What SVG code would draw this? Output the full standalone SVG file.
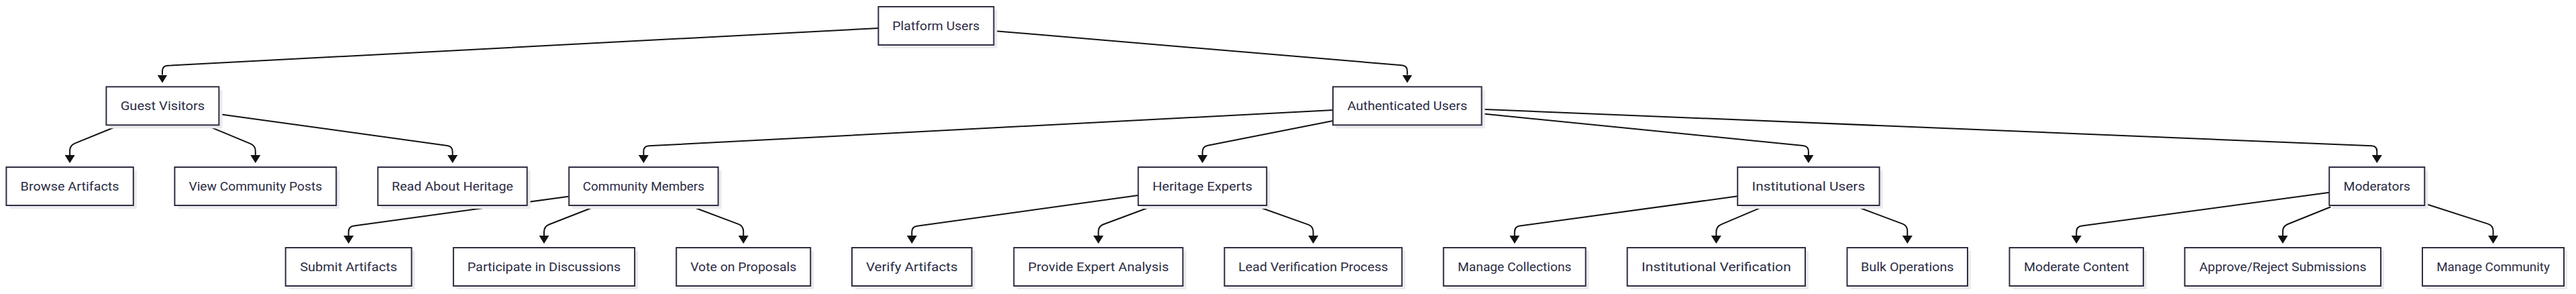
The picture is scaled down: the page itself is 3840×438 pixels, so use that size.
<svg xmlns="http://www.w3.org/2000/svg" width="3840" height="438" viewBox="0 0 3840 438">
<style>
.shadow{fill:#ebebef;stroke:none}
.box{fill:#ffffff;stroke:#2e2e42;stroke-width:2}
.lbl{font-family:Roboto,"Liberation Sans",sans-serif;font-size:19px;fill:#2c2c44;text-anchor:middle}
.edge{fill:none;stroke:#111111;stroke-width:2;marker-end:url(#arr)}
</style>
<defs>
<marker id="arr" viewBox="0 0 12 15" refX="0" refY="7.5" markerWidth="12" markerHeight="15" markerUnits="userSpaceOnUse" orient="auto">
<path d="M0,0 L12,7.5 L0,15 z" fill="#111111"/>
</marker>
</defs>
<rect width="3840" height="438" fill="#ffffff"/>
<g id="connectors">
<path class="edge" d="M1309.4,42 L250,97.7 Q242,98.1 242,106.1 L242,111.5"/>
<path class="edge" d="M1481.2,46 L2089.8,97.3 Q2097.8,98 2097.8,106 L2097.8,111.5"/>
<path class="edge" d="M176.3,187.3 L111.5,213.6 Q104.1,216.6 104.1,224.6 L104.1,231"/>
<path class="edge" d="M309,187.3 L373.4,214.1 Q380.8,217.2 380.8,225.2 L380.8,231"/>
<path class="edge" d="M326.5,170 L666.7,217 Q674.6,218.1 674.6,226.1 L674.6,231"/>
<path class="edge" d="M1987,164 L967.4,217.3 Q959.4,217.7 959.4,225.7 L959.4,231"/>
<path class="edge" d="M1987,180 L1800.4,216.8 Q1792.5,218.3 1792.5,226.3 L1792.5,231"/>
<path class="edge" d="M2208.6,169.3 L2687.9,217.1 Q2695.9,217.9 2695.9,225.9 L2695.9,231"/>
<path class="edge" d="M2208.6,162.7 L3535.3,217.3 Q3543.3,217.6 3543.3,225.6 L3543.3,231"/>
<path class="edge" d="M847.3,292.7 L527.5,336.5 Q519.6,337.6 519.6,345.6 L519.6,351"/>
<path class="edge" d="M888.2,307.3 L818.4,334.5 Q811,337.4 811,345.4 L811,351"/>
<path class="edge" d="M1029.8,307.3 L1100.7,333.9 Q1108.2,336.7 1108.2,344.7 L1108.2,351"/>
<path class="edge" d="M1696.7,291 L1367.2,336.8 Q1359.3,337.9 1359.3,345.9 L1359.3,351"/>
<path class="edge" d="M1717.6,307.3 L1644.9,334.2 Q1637.4,337 1637.4,345 L1637.4,351"/>
<path class="edge" d="M1871.8,306.7 L1950.1,334.6 Q1957.6,337.3 1957.6,345.3 L1957.6,351"/>
<path class="edge" d="M2590.2,292.3 L2265.7,336.6 Q2257.8,337.7 2257.8,345.7 L2257.8,351"/>
<path class="edge" d="M2629.4,307.3 L2565.8,334.4 Q2558.4,337.5 2558.4,345.5 L2558.4,351"/>
<path class="edge" d="M2766.1,307.3 L2835.8,333.4 Q2843.3,336.2 2843.3,344.2 L2843.3,351"/>
<path class="edge" d="M3472.2,286.7 L3103.2,336.6 Q3095.3,337.7 3095.3,345.7 L3095.3,351"/>
<path class="edge" d="M3474.3,308.3 L3410.3,334 Q3402.9,337 3402.9,345 L3402.9,351"/>
<path class="edge" d="M3614.3,303.3 L3708.9,333.6 Q3716.5,336 3716.5,344 L3716.5,351"/>
</g>
<g id="platform-users"><rect class="shadow" x="1314.4" y="15" width="172" height="57"/><rect class="box" x="1309.4" y="10" width="172" height="57"/><text class="lbl" x="1395.3" y="44.5" textLength="130" lengthAdjust="spacingAndGlyphs">Platform Users</text></g>
<g id="guest-visitors"><rect class="shadow" x="163.4" y="134.3" width="168" height="57"/><rect class="box" x="158.4" y="129.3" width="168" height="57"/><text class="lbl" x="242.4" y="163.8" textLength="125.5" lengthAdjust="spacingAndGlyphs">Guest Visitors</text></g>
<g id="authenticated-users"><rect class="shadow" x="1992" y="134.3" width="221.6" height="57"/><rect class="box" x="1987" y="129.3" width="221.6" height="57"/><text class="lbl" x="2097.8" y="163.8" textLength="178.8" lengthAdjust="spacingAndGlyphs">Authenticated Users</text></g>
<g id="browse-artifacts"><rect class="shadow" x="14.4" y="254" width="189.4" height="57"/><rect class="box" x="9.4" y="249" width="189.4" height="57"/><text class="lbl" x="104.1" y="283.5" textLength="147" lengthAdjust="spacingAndGlyphs">Browse Artifacts</text></g>
<g id="view-community-posts"><rect class="shadow" x="265.4" y="254" width="240.8" height="57"/><rect class="box" x="260.4" y="249" width="240.8" height="57"/><text class="lbl" x="380.8" y="283.5" textLength="198.8" lengthAdjust="spacingAndGlyphs">View Community Posts</text></g>
<g id="read-about-heritage"><rect class="shadow" x="568.3" y="254" width="222.4" height="57"/><rect class="box" x="563.3" y="249" width="222.4" height="57"/><text class="lbl" x="674.5" y="283.5" textLength="180.8" lengthAdjust="spacingAndGlyphs">Read About Heritage</text></g>
<g id="community-members"><rect class="shadow" x="853.2" y="254" width="222.4" height="57"/><rect class="box" x="848.2" y="249" width="222.4" height="57"/><text class="lbl" x="959.4" y="283.5" textLength="181.2" lengthAdjust="spacingAndGlyphs">Community Members</text></g>
<g id="heritage-experts"><rect class="shadow" x="1701.7" y="254" width="191.5" height="57"/><rect class="box" x="1696.7" y="249" width="191.5" height="57"/><text class="lbl" x="1792.5" y="283.5" textLength="149" lengthAdjust="spacingAndGlyphs">Heritage Experts</text></g>
<g id="institutional-users"><rect class="shadow" x="2595.2" y="254" width="211.4" height="57"/><rect class="box" x="2590.2" y="249" width="211.4" height="57"/><text class="lbl" x="2695.9" y="283.5" textLength="168.6" lengthAdjust="spacingAndGlyphs">Institutional Users</text></g>
<g id="moderators"><rect class="shadow" x="3477.2" y="254" width="142.1" height="57"/><rect class="box" x="3472.2" y="249" width="142.1" height="57"/><text class="lbl" x="3543.3" y="283.5" textLength="99.5" lengthAdjust="spacingAndGlyphs">Moderators</text></g>
<g id="submit-artifacts"><rect class="shadow" x="430.7" y="374" width="187.8" height="57"/><rect class="box" x="425.7" y="369" width="187.8" height="57"/><text class="lbl" x="519.6" y="403.5" textLength="144.9" lengthAdjust="spacingAndGlyphs">Submit Artifacts</text></g>
<g id="participate-in-discussions"><rect class="shadow" x="680.9" y="374" width="270.2" height="57"/><rect class="box" x="675.9" y="369" width="270.2" height="57"/><text class="lbl" x="811" y="403.5" textLength="228.6" lengthAdjust="spacingAndGlyphs">Participate in Discussions</text></g>
<g id="vote-on-proposals"><rect class="shadow" x="1013.2" y="374" width="200" height="57"/><rect class="box" x="1008.2" y="369" width="200" height="57"/><text class="lbl" x="1108.2" y="403.5" textLength="158" lengthAdjust="spacingAndGlyphs">Vote on Proposals</text></g>
<g id="verify-artifacts"><rect class="shadow" x="1275" y="374" width="178.6" height="57"/><rect class="box" x="1270" y="369" width="178.6" height="57"/><text class="lbl" x="1359.3" y="403.5" textLength="136.7" lengthAdjust="spacingAndGlyphs">Verify Artifacts</text></g>
<g id="provide-expert-analysis"><rect class="shadow" x="1516.4" y="374" width="251.9" height="57"/><rect class="box" x="1511.4" y="369" width="251.9" height="57"/><text class="lbl" x="1637.4" y="403.5" textLength="209.8" lengthAdjust="spacingAndGlyphs">Provide Expert Analysis</text></g>
<g id="lead-verification-process"><rect class="shadow" x="1830.3" y="374" width="264.5" height="57"/><rect class="box" x="1825.3" y="369" width="264.5" height="57"/><text class="lbl" x="1957.6" y="403.5" textLength="223.3" lengthAdjust="spacingAndGlyphs">Lead Verification Process</text></g>
<g id="manage-collections"><rect class="shadow" x="2156.8" y="374" width="211.9" height="57"/><rect class="box" x="2151.8" y="369" width="211.9" height="57"/><text class="lbl" x="2257.8" y="403.5" textLength="169.4" lengthAdjust="spacingAndGlyphs">Manage Collections</text></g>
<g id="institutional-verification"><rect class="shadow" x="2430.7" y="374" width="265.3" height="57"/><rect class="box" x="2425.7" y="369" width="265.3" height="57"/><text class="lbl" x="2558.4" y="403.5" textLength="222.8" lengthAdjust="spacingAndGlyphs">Institutional Verification</text></g>
<g id="bulk-operations"><rect class="shadow" x="2758.5" y="374" width="179.5" height="57"/><rect class="box" x="2753.5" y="369" width="179.5" height="57"/><text class="lbl" x="2843.3" y="403.5" textLength="138.4" lengthAdjust="spacingAndGlyphs">Bulk Operations</text></g>
<g id="moderate-content"><rect class="shadow" x="3000.5" y="374" width="199.6" height="57"/><rect class="box" x="2995.5" y="369" width="199.6" height="57"/><text class="lbl" x="3095.3" y="403.5" textLength="156.7" lengthAdjust="spacingAndGlyphs">Moderate Content</text></g>
<g id="approve-reject-submissions"><rect class="shadow" x="3261.7" y="374" width="292.3" height="57"/><rect class="box" x="3256.7" y="369" width="292.3" height="57"/><text class="lbl" x="3402.9" y="403.5" textLength="249" lengthAdjust="spacingAndGlyphs">Approve/Reject Submissions</text></g>
<g id="manage-community"><rect class="shadow" x="3616" y="374" width="211" height="57"/><rect class="box" x="3611" y="369" width="211" height="57"/><text class="lbl" x="3716.5" y="403.5" textLength="168.6" lengthAdjust="spacingAndGlyphs">Manage Community</text></g>
</svg>
